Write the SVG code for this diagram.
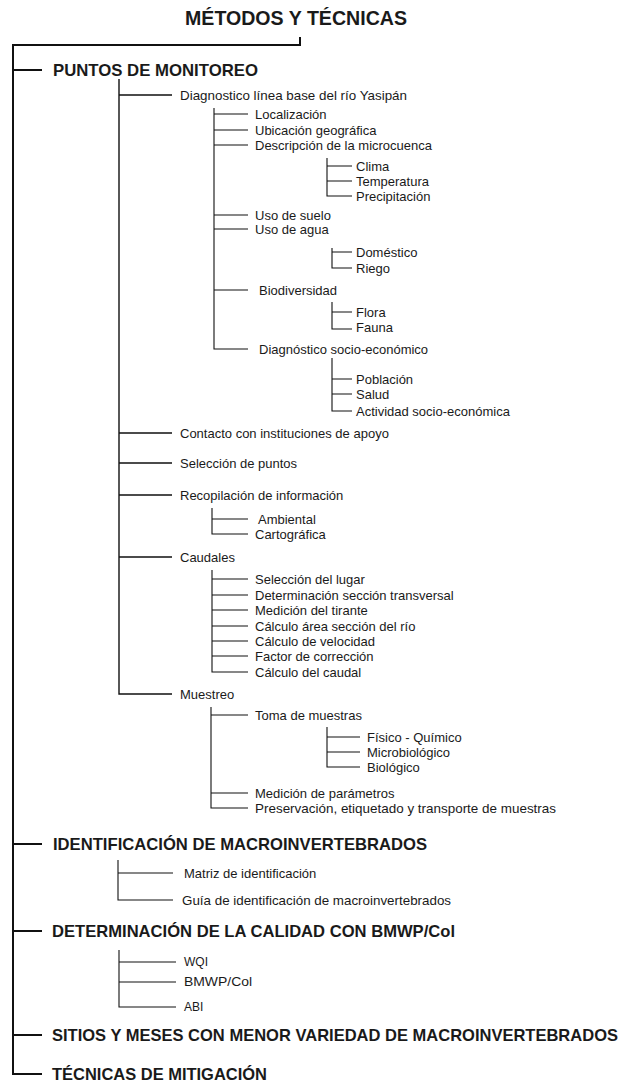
<svg xmlns="http://www.w3.org/2000/svg" width="626" height="1085" viewBox="0 0 626 1085">
<style>
text{font-family:"Liberation Sans",Arial,sans-serif;fill:#1a1a1a}
.ti{font-size:19.5px;font-weight:bold}
.h{font-size:17px;font-weight:bold}
.t{font-size:13px}
.s{font-size:12px}
.c0{fill:none;stroke:#111;stroke-width:2}
.c1{fill:none;stroke:#111;stroke-width:1.4}
.c2{fill:none;stroke:#111;stroke-width:1.1}
</style>
<rect width="626" height="1085" fill="#fff"/>
<g id="connectors">
<path class="c0" d="M300,37V45H13V1074H42M13,70H42M13,844H42M13,931H42M13,1035H42"/>
<path class="c1" d="M119,79V694H172M119,95H172M119,433H172M119,463H172M119,495H172M119,557H172"/>
<path class="c2" d="M214,108V349H248M214,114H248M214,130H248M214,145H248M214,215H248M214,229H248M214,290H248"/>
<path class="c2" d="M327,158V196H352M327,166H352M327,181H352"/>
<path class="c2" d="M332,248V268H352M332,252H352"/>
<path class="c2" d="M332,302V329H352M332,312H352"/>
<path class="c2" d="M332,358V411H352M332,379H352M332,394H352"/>
<path class="c2" d="M212,508V534H248M212,519H248"/>
<path class="c2" d="M212,570V672H248M212,579H248M212,595H248M212,610H248M212,626H248M212,641H248M212,656H248"/>
<path class="c2" d="M211,707V808H248M211,715H248M211,793H248"/>
<path class="c2" d="M327,727V767H360M327,737H360M327,752H360"/>
<path class="c2" d="M118,860V900H173M118,873H173"/>
<path class="c2" d="M119,950V1007H176M119,962H176M119,982H176"/>
</g>
<g id="title"><text class="ti" x="185" y="25" textLength="222" lengthAdjust="spacingAndGlyphs">MÉTODOS Y TÉCNICAS</text></g>
<g id="puntos"><text class="h" x="53" y="76" textLength="205" lengthAdjust="spacingAndGlyphs">PUNTOS DE MONITOREO</text></g>
<g id="diagnostico"><text class="t" x="180" y="99.5" textLength="227" lengthAdjust="spacingAndGlyphs">Diagnostico línea base del río Yasipán</text></g>
<g id="localizacion"><text class="t" x="255" y="118.5">Localización</text></g>
<g id="ubicacion"><text class="t" x="255" y="134.5">Ubicación geográfica</text></g>
<g id="descripcion"><text class="t" x="255" y="149.5">Descripción de la microcuenca</text></g>
<g id="clima"><text class="t" x="356" y="170.5">Clima</text></g>
<g id="temperatura"><text class="t" x="356" y="185.5">Temperatura</text></g>
<g id="precipitacion"><text class="t" x="356" y="200.5">Precipitación</text></g>
<g id="suelo"><text class="t" x="255" y="219.5">Uso de suelo</text></g>
<g id="agua"><text class="t" x="255" y="233.5">Uso de agua</text></g>
<g id="domestico"><text class="t" x="356" y="256.5">Doméstico</text></g>
<g id="riego"><text class="t" x="356" y="272.5">Riego</text></g>
<g id="biodiversidad"><text class="t" x="259" y="294.5">Biodiversidad</text></g>
<g id="flora"><text class="t" x="356" y="316.5">Flora</text></g>
<g id="fauna"><text class="t" x="356" y="331.5">Fauna</text></g>
<g id="socio"><text class="t" x="259" y="353.5">Diagnóstico socio-económico</text></g>
<g id="poblacion"><text class="t" x="356" y="383.5">Población</text></g>
<g id="salud"><text class="t" x="356" y="398.5">Salud</text></g>
<g id="actividad"><text class="t" x="356" y="415.5">Actividad socio-económica</text></g>
<g id="contacto"><text class="t" x="180" y="437.5">Contacto con instituciones de apoyo</text></g>
<g id="seleccion"><text class="t" x="180" y="467.5">Selección de puntos</text></g>
<g id="recopilacion"><text class="t" x="180" y="499.5">Recopilación de información</text></g>
<g id="ambiental"><text class="t" x="258" y="523.5">Ambiental</text></g>
<g id="cartografica"><text class="t" x="255" y="538.5">Cartográfica</text></g>
<g id="caudales"><text class="t" x="180" y="561.5">Caudales</text></g>
<g id="lugar"><text class="t" x="255" y="583.5">Selección del lugar</text></g>
<g id="transversal"><text class="t" x="255" y="599.5">Determinación sección transversal</text></g>
<g id="tirante"><text class="t" x="255" y="614.5">Medición del tirante</text></g>
<g id="area"><text class="t" x="255" y="630.5">Cálculo área sección del río</text></g>
<g id="velocidad"><text class="t" x="255" y="645.5">Cálculo de velocidad</text></g>
<g id="factor"><text class="t" x="255" y="660.5">Factor de corrección</text></g>
<g id="caudal"><text class="t" x="255" y="676.5">Cálculo del caudal</text></g>
<g id="muestreo"><text class="t" x="180" y="698.5">Muestreo</text></g>
<g id="toma"><text class="t" x="255" y="719.5">Toma de muestras</text></g>
<g id="fisico"><text class="t" x="367" y="741.5">Físico - Químico</text></g>
<g id="micro"><text class="t" x="367" y="756.5">Microbiológico</text></g>
<g id="biologico"><text class="t" x="367" y="771.5">Biológico</text></g>
<g id="medicion"><text class="t" x="255" y="797.5">Medición de parámetros</text></g>
<g id="preservacion"><text class="t" x="255" y="812.5" textLength="301" lengthAdjust="spacingAndGlyphs">Preservación, etiquetado y transporte de muestras</text></g>
<g id="identificacion"><text class="h" x="53" y="850" textLength="374" lengthAdjust="spacingAndGlyphs">IDENTIFICACIÓN DE MACROINVERTEBRADOS</text></g>
<g id="matriz"><text class="t" x="184" y="877.5">Matriz de identificación</text></g>
<g id="guia"><text class="t" x="182" y="904.5" textLength="269" lengthAdjust="spacingAndGlyphs">Guía de identificación de macroinvertebrados</text></g>
<g id="determinacion"><text class="h" x="52" y="937" textLength="403" lengthAdjust="spacingAndGlyphs">DETERMINACIÓN DE LA CALIDAD CON BMWP/Col</text></g>
<g id="wqi"><text class="s" x="184" y="966">WQI</text></g>
<g id="bmwp"><text class="s" x="184" y="986" textLength="68" lengthAdjust="spacingAndGlyphs">BMWP/Col</text></g>
<g id="abi"><text class="s" x="184" y="1011">ABI</text></g>
<g id="sitios"><text class="h" x="52" y="1041" style="font-size:16.3px" textLength="566" lengthAdjust="spacingAndGlyphs">SITIOS Y MESES CON MENOR VARIEDAD DE MACROINVERTEBRADOS</text></g>
<g id="tecnicas"><text class="h" x="52" y="1080" textLength="215" lengthAdjust="spacingAndGlyphs">TÉCNICAS DE MITIGACIÓN</text></g>
</svg>
